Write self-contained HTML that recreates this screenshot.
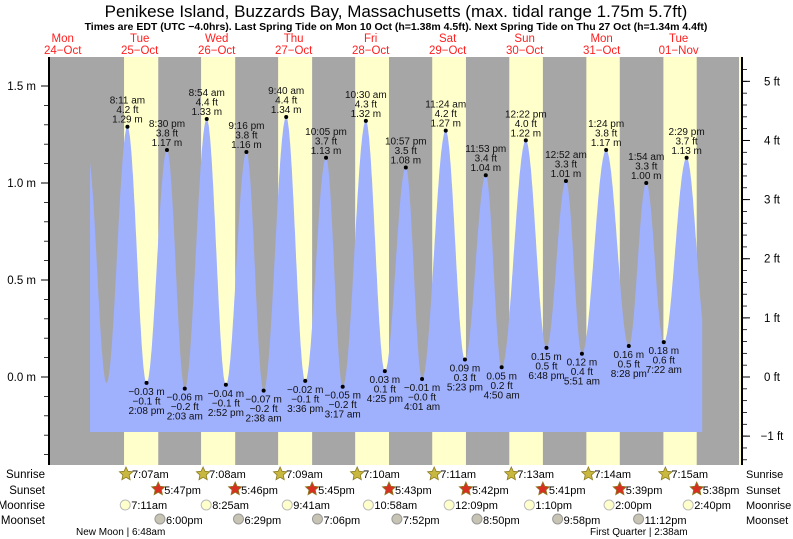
<!DOCTYPE html>
<html><head><meta charset="utf-8"><style>
body{margin:0;background:#fff;}
svg{display:block;font-family:"Liberation Sans",sans-serif;}
</style></head><body>
<svg id="c" width="793" height="539" viewBox="0 0 793 539">
<text x="396" y="17" text-anchor="middle" font-size="17" fill="#000">Penikese Island, Buzzards Bay, Massachusetts (max. tidal range 1.75m 5.7ft)</text>
<text x="396" y="30" text-anchor="middle" font-size="10.5" font-weight="bold" fill="#000">Times are EDT (UTC −4.0hrs). Last Spring Tide on Mon 10 Oct (h=1.38m 4.5ft). Next Spring Tide on Thu 27 Oct (h=1.34m 4.4ft)</text>
<g id="bg"></g><g id="tide"></g><g id="axes"></g><g id="labels"></g><g id="bottom"></g>
</svg>
<script>
// ---- data ----
const extremeTimes=["2022-10-24T19:45","2022-10-25T01:40","2022-10-25T08:11","2022-10-25T14:08","2022-10-25T20:30","2022-10-26T02:03","2022-10-26T08:54","2022-10-26T14:52","2022-10-26T21:16","2022-10-27T02:38","2022-10-27T09:40","2022-10-27T15:36","2022-10-27T22:05","2022-10-28T03:17","2022-10-28T10:30","2022-10-28T16:25","2022-10-28T22:57","2022-10-29T04:01","2022-10-29T11:24","2022-10-29T17:23","2022-10-29T23:53","2022-10-30T04:50","2022-10-30T12:22","2022-10-30T18:48","2022-10-31T00:52","2022-10-31T05:51","2022-10-31T13:24","2022-10-31T20:28","2022-11-01T01:54","2022-11-01T07:22","2022-11-01T14:29","2022-11-01T20:40"];
const extremeHeights=[1.15,-0.03,1.29,-0.03,1.17,-0.06,1.33,-0.04,1.16,-0.07,1.34,-0.02,1.13,-0.05,1.32,0.03,1.08,-0.01,1.27,0.09,1.04,0.05,1.22,0.15,1.01,0.12,1.17,0.16,1.00,0.18,1.13,0.2];
const extremeLabels=[null,null,"8:11 am","2:08 pm","8:30 pm","2:03 am","8:54 am","2:52 pm","9:16 pm","2:38 am","9:40 am","3:36 pm","10:05 pm","3:17 am","10:30 am","4:25 pm","10:57 pm","4:01 am","11:24 am","5:23 pm","11:53 pm","4:50 am","12:22 pm","6:48 pm","12:52 am","5:51 am","1:24 pm","8:28 pm","1:54 am","7:22 am","2:29 pm",null];
const curveStart="2022-10-24T20:30", curveEnd="2022-11-01T19:20";
const dayNames=["Mon","Tue","Wed","Thu","Fri","Sat","Sun","Mon","Tue"];
const dayDates=["24−Oct","25−Oct","26−Oct","27−Oct","28−Oct","29−Oct","30−Oct","31−Oct","01−Nov"];
const sunrise=["07:07","07:08","07:09","07:10","07:11","07:13","07:14","07:15"];
const sunset=["17:47","17:46","17:45","17:43","17:42","17:41","17:39","17:38"];
const sunriseTxt=["7:07am","7:08am","7:09am","7:10am","7:11am","7:13am","7:14am","7:15am"];
const sunsetTxt=["5:47pm","5:46pm","5:45pm","5:43pm","5:42pm","5:41pm","5:39pm","5:38pm"];
const moonrise=["07:11","08:25","09:41","10:58","12:09","13:10","14:00","14:40"];
const moonriseTxt=["7:11am","8:25am","9:41am","10:58am","12:09pm","1:10pm","2:00pm","2:40pm"];
const moonset=["18:00","18:29","19:06","19:52","20:50","21:58","23:12"];
const moonsetTxt=["6:00pm","6:29pm","7:06pm","7:52pm","8:50pm","9:58pm","11:12pm"];
const mTicks=[1.5,1.0,0.5,0.0];
const ftTicks=[5,4,3,2,1,0,-1];
// ---- scales ----
const NS="http://www.w3.org/2000/svg";
const base=Date.UTC(2022,9,25,0,0);
const PX_H=3.208, X0=101.2;
function hrs(s){const d=new Date(s+":00Z");return (d-base)/3600000;}
function X(h){return X0+h*PX_H;}
function Y(m){return 377-194*m;}
function el(tag,attrs,parent,txt){const e=document.createElementNS(NS,tag);for(const k in attrs)e.setAttribute(k,attrs[k]);if(txt!==undefined)e.textContent=txt;parent.appendChild(e);return e;}
const L=50,R=739,T=57,B=465;
const bg=document.getElementById('bg');
let r=el('rect',{x:L,y:T,width:R-L,height:B-T,fill:'#a6a6a6'},bg);


for(let i=0;i<sunrise.length;i++){
  const a=X(24*i+hrs("2022-10-25T"+sunrise[i])), b=X(24*i+hrs("2022-10-25T"+sunset[i]));
  const d=el('rect',{x:a,y:T,width:b-a,height:B-T,fill:'#ffffcc'},bg);
  
  
}
const ds=el('rect',{x:R,y:T,width:3,height:B-T,fill:'#ffffcc'},bg);


// tide curve
const ts=extremeTimes.map(hrs);
function h(t){
  for(let i=0;i<ts.length-1;i++){if(t>=ts[i]&&t<=ts[i+1]){const f=(t-ts[i])/(ts[i+1]-ts[i]);return extremeHeights[i]+(extremeHeights[i+1]-extremeHeights[i])*(1-Math.cos(Math.PI*f))/2;}}
  return extremeHeights[extremeHeights.length-1];
}
const t0=hrs(curveStart),t1=hrs(curveEnd);
let pts=[[X(t0),432]];
for(let t=t0;t<=t1;t+=0.1)pts.push([X(t),Y(h(t))]);
pts.push([X(t1),Y(h(t1))],[X(t1),432]);
const poly=el('polygon',{points:pts.map(p=>p[0].toFixed(1)+','+p[1].toFixed(1)).join(' '),fill:'#9fb0fd'},document.getElementById('tide'));


// axes
const ax=document.getElementById('axes');
el('line',{x1:49,y1:T,x2:49,y2:B,stroke:'#000','stroke-width':2},ax);
el('line',{x1:742,y1:T,x2:742,y2:B,stroke:'#000','stroke-width':2},ax);
for(let v=-0.4;v<=1.6;v+=0.1){const y=Y(v);if(y<T||y>B)continue;el('line',{x1:44,y1:y,x2:49,y2:y,stroke:'#000','stroke-width':0.8},ax);}
mTicks.forEach(v=>{el('line',{x1:41,y1:Y(v),x2:49,y2:Y(v),stroke:'#000'},ax);
 const t=el('text',{x:36,y:Y(v)+4,'text-anchor':'end','font-size':11.5},ax,v.toFixed(1)+" m");
 
 });
for(let f=-1.4;f<=5.4;f+=0.2){const y=Y(f*0.3048);if(y<T||y>B)continue;el('line',{x1:742,y1:y,x2:747,y2:y,stroke:'#000','stroke-width':0.8},ax);}
ftTicks.forEach(f=>{const y=Y(f*0.3048);el('line',{x1:742,y1:y,x2:750,y2:y,stroke:'#000'},ax);
 const t=el('text',{x:772,y:y+4,'text-anchor':'middle','font-size':11.5},ax,(f<0?"−"+(-f):f)+" ft");
 
 });
for(let i=0;i<dayNames.length;i++){const x=X(24*(i-1)+12);
 const a=el('text',{x:x,y:42,'text-anchor':'middle','font-size':11.5,fill:'#ff2020'},ax,dayNames[i]);
 
 
 const b=el('text',{x:x,y:54,'text-anchor':'middle','font-size':11.5,fill:'#ff2020'},ax,dayDates[i]);
 
 }
// extreme labels
const lb=document.getElementById('labels');
function fmt(v,d){const s=Math.abs(v).toFixed(d);return (v<0?"−":"")+s;}
for(let i=0;i<ts.length;i++){
 if(!extremeLabels[i])continue;
 const x=X(ts[i]),m=extremeHeights[i],y=Y(m),ft=m/0.3048;
 const hi=(i%2===0);
 const c=el('circle',{cx:x,cy:y,r:2,fill:'#000'},lb);
 
 
 const lines=hi?[extremeLabels[i],fmt(ft,1)+" ft",fmt(m,2)+" m"]:[fmt(m,2)+" m",fmt(ft,1)+" ft",extremeLabels[i]];
 const ys=hi?[y-23,y-13.5,y-4]:[y+12,y+21.5,y+31];
 lines.forEach((s,k)=>{const t=el('text',{x:x,y:ys[k],'text-anchor':'middle','font-size':10,fill:'#111'},lb,s);
  
  });
}
// bottom rows
const bt=document.getElementById('bottom');
const rows=[["Sunrise",478],["Sunset",494],["Moonrise",509],["Moonset",524]];
rows.forEach(([n,y])=>{
 const a=el('text',{x:45,y:y,'text-anchor':'end','font-size':11.5},bt,n);
 
 
 const b=el('text',{x:746,y:y,'font-size':11},bt,n);
 
 });
function star(cx,cy,fill){let p=[];for(let k=0;k<10;k++){const a=-Math.PI/2+k*Math.PI/5,rr=k%2?3.3:7;p.push((cx+rr*Math.cos(a)).toFixed(1)+','+(cy+rr*Math.sin(a)).toFixed(1));}
 return el('polygon',{points:p.join(' '),fill:fill,stroke:'#8a7a20','stroke-width':0.8},bt);}
for(let i=0;i<sunrise.length;i++){
 let x=X(24*i+hrs("2022-10-25T"+sunrise[i]));
 let s=star(x+2,474,'#c8b840');
 let t=el('text',{x:x+8,y:478,'font-size':11},bt,sunriseTxt[i]);
 x=X(24*i+hrs("2022-10-25T"+sunset[i]));
 s=star(x,489,'#d83020');
 t=el('text',{x:x+6,y:494,'font-size':11},bt,sunsetTxt[i]);
 x=X(24*i+hrs("2022-10-25T"+moonrise[i]));
 const c=el('circle',{cx:x+1,cy:505,r:5,fill:'#ffffcc',stroke:'#bbb'},bt);
 t=el('text',{x:x+7,y:509,'font-size':11},bt,moonriseTxt[i]);
}
for(let i=0;i<moonset.length;i++){
 const x=X(24*i+hrs("2022-10-25T"+moonset[i]));
 const c=el('circle',{cx:x+1,cy:519,r:5,fill:'#c8c4b4',stroke:'#999'},bt);
 const t=el('text',{x:x+7,y:524,'font-size':11},bt,moonsetTxt[i]);
}
let mp=el('text',{x:76,y:535,'font-size':10},bt,"New Moon | 6:48am");
mp=el('text',{x:590,y:535,'font-size':10},bt,"First Quarter | 2:38am");
</script>
</body></html>
